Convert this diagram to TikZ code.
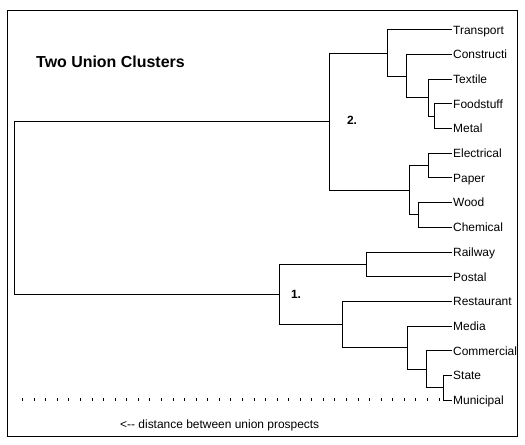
\documentclass[tikz,border=0pt]{standalone}
\usepackage{fontspec}
\setsansfont{Liberation Sans}
\usetikzlibrary{calc}

\begin{document}
\begin{tikzpicture}[x=1bp, y=-1bp, font=\sffamily,
    leaf/.style={anchor=west, inner sep=1bp, text height=8.6bp, text depth=0pt,
      font=\sffamily\fontsize{12}{14}\selectfont},
    clusterno/.style={inner sep=0pt, font=\sffamily\bfseries\fontsize{12}{14}\selectfont},
    branch/.style={line width=1bp, black}]

    \useasboundingbox (0,0) rectangle (525,445);
    \draw [line width=1bp] (7,11) rectangle (517,436);

    \node (title) [anchor=base west, inner sep=0pt,
      font=\sffamily\bfseries\fontsize{16}{19}\selectfont] at (36,68) {Two Union Clusters};

    % leaves
    \node (transport) [leaf] at (452,30) {Transport};
    \node (constructi) [leaf] at (452,54.7) {Constructi};
    \node (textile) [leaf] at (452,79.3) {Textile};
    \node (foodstuff) [leaf] at (452,104) {Foodstuff};
    \node (metal) [leaf] at (452,128.7) {Metal};
    \node (electrical) [leaf] at (452,153.3) {Electrical};
    \node (paper) [leaf] at (452,178) {Paper};
    \node (wood) [leaf] at (452,202.7) {Wood};
    \node (chemical) [leaf] at (452,227.3) {Chemical};
    \node (railway) [leaf] at (452,252) {Railway};
    \node (postal) [leaf] at (452,276.7) {Postal};
    \node (restaurant) [leaf] at (452,301.3) {Restaurant};
    \node (media) [leaf] at (452,326) {Media};
    \node (commercial) [leaf] at (452,350.7) {Commercial};
    \node (state) [leaf] at (452,375.3) {State};
    \node (municipal) [leaf] at (452,400) {Municipal};

    % joins
    \coordinate (fm) at (434,116.3);
    \coordinate (tfm) at (428,97.8);
    \coordinate (ctfm) at (406,76.3);
    \coordinate (tct) at (387,53.1);
    \coordinate (ep) at (428,165.7);
    \coordinate (wc) at (418,215);
    \coordinate (ew) at (409,190.3);
    \coordinate (two) at (329,121.7);
    \coordinate (rp) at (366,264.3);
    \coordinate (sm) at (443,387.7);
    \coordinate (csm) at (426,369.2);
    \coordinate (mcsm) at (407,347.6);
    \coordinate (rm) at (342,324.5);
    \coordinate (one) at (279,294.4);
    \coordinate (root) at (14,208);

    % cluster 2
    \draw [branch] (fm) |- (foodstuff.west);
    \draw [branch] (fm) |- (metal.west);
    \draw [branch] (tfm) |- (textile.west);
    \draw [branch] (tfm) |- (fm);
    \draw [branch] (ctfm) |- (constructi.west);
    \draw [branch] (ctfm) |- (tfm);
    \draw [branch] (tct) |- (transport.west);
    \draw [branch] (tct) |- (ctfm);
    \draw [branch] (ep) |- (electrical.west);
    \draw [branch] (ep) |- (paper.west);
    \draw [branch] (wc) |- (wood.west);
    \draw [branch] (wc) |- (chemical.west);
    \draw [branch] (ew) |- (ep);
    \draw [branch] (ew) |- (wc);
    \draw [branch] (two) |- (tct);
    \draw [branch] (two) |- (ew);

    % cluster 1
    \draw [branch] (rp) |- (railway.west);
    \draw [branch] (rp) |- (postal.west);
    \draw [branch] (sm) |- (state.west);
    \draw [branch] (sm) |- (municipal.west);
    \draw [branch] (csm) |- (commercial.west);
    \draw [branch] (csm) |- (sm);
    \draw [branch] (mcsm) |- (media.west);
    \draw [branch] (mcsm) |- (csm);
    \draw [branch] (rm) |- (restaurant.west);
    \draw [branch] (rm) |- (mcsm);
    \draw [branch] (one) |- (rp);
    \draw [branch] (one) |- (rm);

    \draw [branch] (root) |- (two);
    \draw [branch] (root) |- (one);

    \node (lbltwo) [clusterno] at (352,120.5) {2.};
    \node (lblone) [clusterno] at (296,294) {1.};

    % distance scale
    \coordinate (scalestart) at (22.1,399);
    \coordinate (scaleend) at (440,399);
    \draw [line width=3bp, dash pattern=on 1bp off 10.57bp] (scalestart) -- (scaleend);
    \node (scalenote) [anchor=base west, inner sep=0pt,
      font=\sffamily\fontsize{12}{14}\selectfont] at (120,428) {<-{}- distance between union prospects};
\end{tikzpicture}
\end{document}
